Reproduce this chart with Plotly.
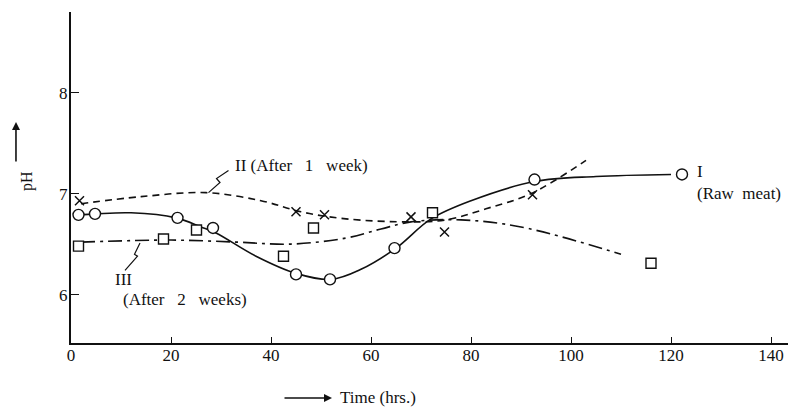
import plotly.graph_objects as go

# measured points (hrs, pH)
raw_x = [1.5, 4.8, 21.3, 28.4, 45, 51.8, 64.7, 92.7, 122.2]
raw_y = [6.79, 6.80, 6.76, 6.66, 6.20, 6.15, 6.46, 7.14, 7.19]

wk1_x = [1.7, 45, 50.7, 68, 74.7, 92.3]
wk1_y = [6.93, 6.82, 6.79, 6.77, 6.62, 6.99]

wk2_x = [1.5, 18.5, 25.1, 42.5, 48.5, 72.3, 116]
wk2_y = [6.48, 6.55, 6.64, 6.38, 6.66, 6.81, 6.31]

# hand drawn curves
raw_cx = [1.5, 5, 12, 21, 26, 29, 37, 45, 52, 58, 65, 72, 80, 92.7, 105, 120]
raw_cy = [6.79, 6.80, 6.81, 6.76, 6.67, 6.61, 6.38, 6.21, 6.15, 6.25, 6.46, 6.75, 6.93, 7.12, 7.17, 7.19]

wk1_cx = [2, 14, 27, 38, 46, 55, 68, 75, 83, 92, 103]
wk1_cy = [6.90, 6.97, 7.01, 6.93, 6.82, 6.75, 6.72, 6.74, 6.85, 7.00, 7.33]

wk2_cx = [2, 20, 33, 44, 55, 62, 68, 78, 90, 110]
wk2_cy = [6.52, 6.54, 6.52, 6.50, 6.56, 6.65, 6.72, 6.74, 6.67, 6.40]

x_ticks = [0, 20, 40, 60, 80, 100, 120, 140]
y_ticks = [6, 7, 8]

SERIF = "Liberation Serif, Times New Roman, serif"
INK = "#111"

fig = go.Figure()

fig.add_trace(go.Scatter(x=raw_cx, y=raw_cy, mode="lines", line_shape="spline",
                         line=dict(color=INK, width=1.6), showlegend=False))
fig.add_trace(go.Scatter(x=wk1_cx, y=wk1_cy, mode="lines", line_shape="spline",
                         line=dict(color=INK, width=1.6, dash="7px,5px"), showlegend=False))
fig.add_trace(go.Scatter(x=wk2_cx, y=wk2_cy, mode="lines", line_shape="spline",
                         line=dict(color=INK, width=1.6, dash="14px,5px,3px,5px"), showlegend=False))

fig.add_trace(go.Scatter(x=raw_x, y=raw_y, mode="markers", showlegend=False,
                         marker=dict(symbol="circle", size=11, color="white",
                                     line=dict(color=INK, width=1.4))))
fig.add_trace(go.Scatter(x=wk1_x, y=wk1_y, mode="markers", showlegend=False,
                         marker=dict(symbol="x-thin", size=9, color=INK,
                                     line=dict(color=INK, width=1.5))))
fig.add_trace(go.Scatter(x=wk2_x, y=wk2_y, mode="markers", showlegend=False,
                         marker=dict(symbol="square", size=10, color="white",
                                     line=dict(color=INK, width=1.4))))

# leader squiggles
fig.add_trace(go.Scatter(x=[27.5, 29.8, 29.1, 31.5], y=[7.01, 7.11, 7.15, 7.23], mode="lines",
                         line=dict(color=INK, width=1.2), showlegend=False))
fig.add_trace(go.Scatter(x=[13.8, 12.7, 13.3, 10.8], y=[6.51, 6.40, 6.38, 6.24], mode="lines",
                         line=dict(color=INK, width=1.2), showlegend=False))

ann = [
    dict(x=32.4, y=7.28, text="II (After   1   week)", xanchor="left"),
    dict(x=10.4, y=6.15, text="III"),
    dict(x=22.8, y=5.95, text="(After   2   weeks)"),
    dict(x=125.8, y=7.22, text="I"),
    dict(x=133.5, y=7.00, text="(Raw  meat)"),
    dict(x=0.368, y=-0.166, xref="paper", yref="paper", text="Time (hrs.)",
         xanchor="left"),
]
for a in ann:
    a.setdefault("xref", "x")
    a.setdefault("yref", "y")
    fig.add_annotation(showarrow=False, yanchor="middle",
                       font=dict(family=SERIF, color=INK, size=17), **a)

# axis title arrows
fig.add_annotation(x=0.36, y=-0.166, xref="paper", yref="paper", ax=-49, ay=0,
                   text="", showarrow=True, arrowhead=2, arrowsize=1, arrowwidth=1.6,
                   arrowcolor=INK)
fig.add_annotation(x=-0.0759, y=0.489, xref="paper", yref="paper", text="pH",
                   textangle=-90, showarrow=False,
                   font=dict(family=SERIF, color=INK, size=16))
fig.add_annotation(x=-0.0759, y=0.668, xref="paper", yref="paper", ax=0, ay=41,
                   text="", showarrow=True, arrowhead=2, arrowsize=1, arrowwidth=1.6,
                   arrowcolor=INK)

fig.update_xaxes(range=[0, 145], tickvals=x_ticks, ticks="inside", ticklen=6,
                 tickcolor=INK, showline=True, linecolor=INK, linewidth=2,
                 showgrid=False, zeroline=False, ticklabelstandoff=-4,
                 tickfont=dict(family=SERIF, size=17, color=INK))
fig.update_yaxes(range=[5.52, 8.8], tickvals=y_ticks, ticks="inside", ticklen=8,
                 tickcolor=INK, showline=True, linecolor=INK, linewidth=2,
                 showgrid=False, zeroline=False, ticklabelstandoff=-2,
                 tickfont=dict(family=SERIF, size=17, color=INK))

# page body adds an 8px margin, so the figure is 8px smaller on each axis
fig.update_layout(width=788, height=403, margin=dict(l=63, r=0, t=4, b=68),
                  plot_bgcolor="white", paper_bgcolor="white")

fig.write_html("out.html")
